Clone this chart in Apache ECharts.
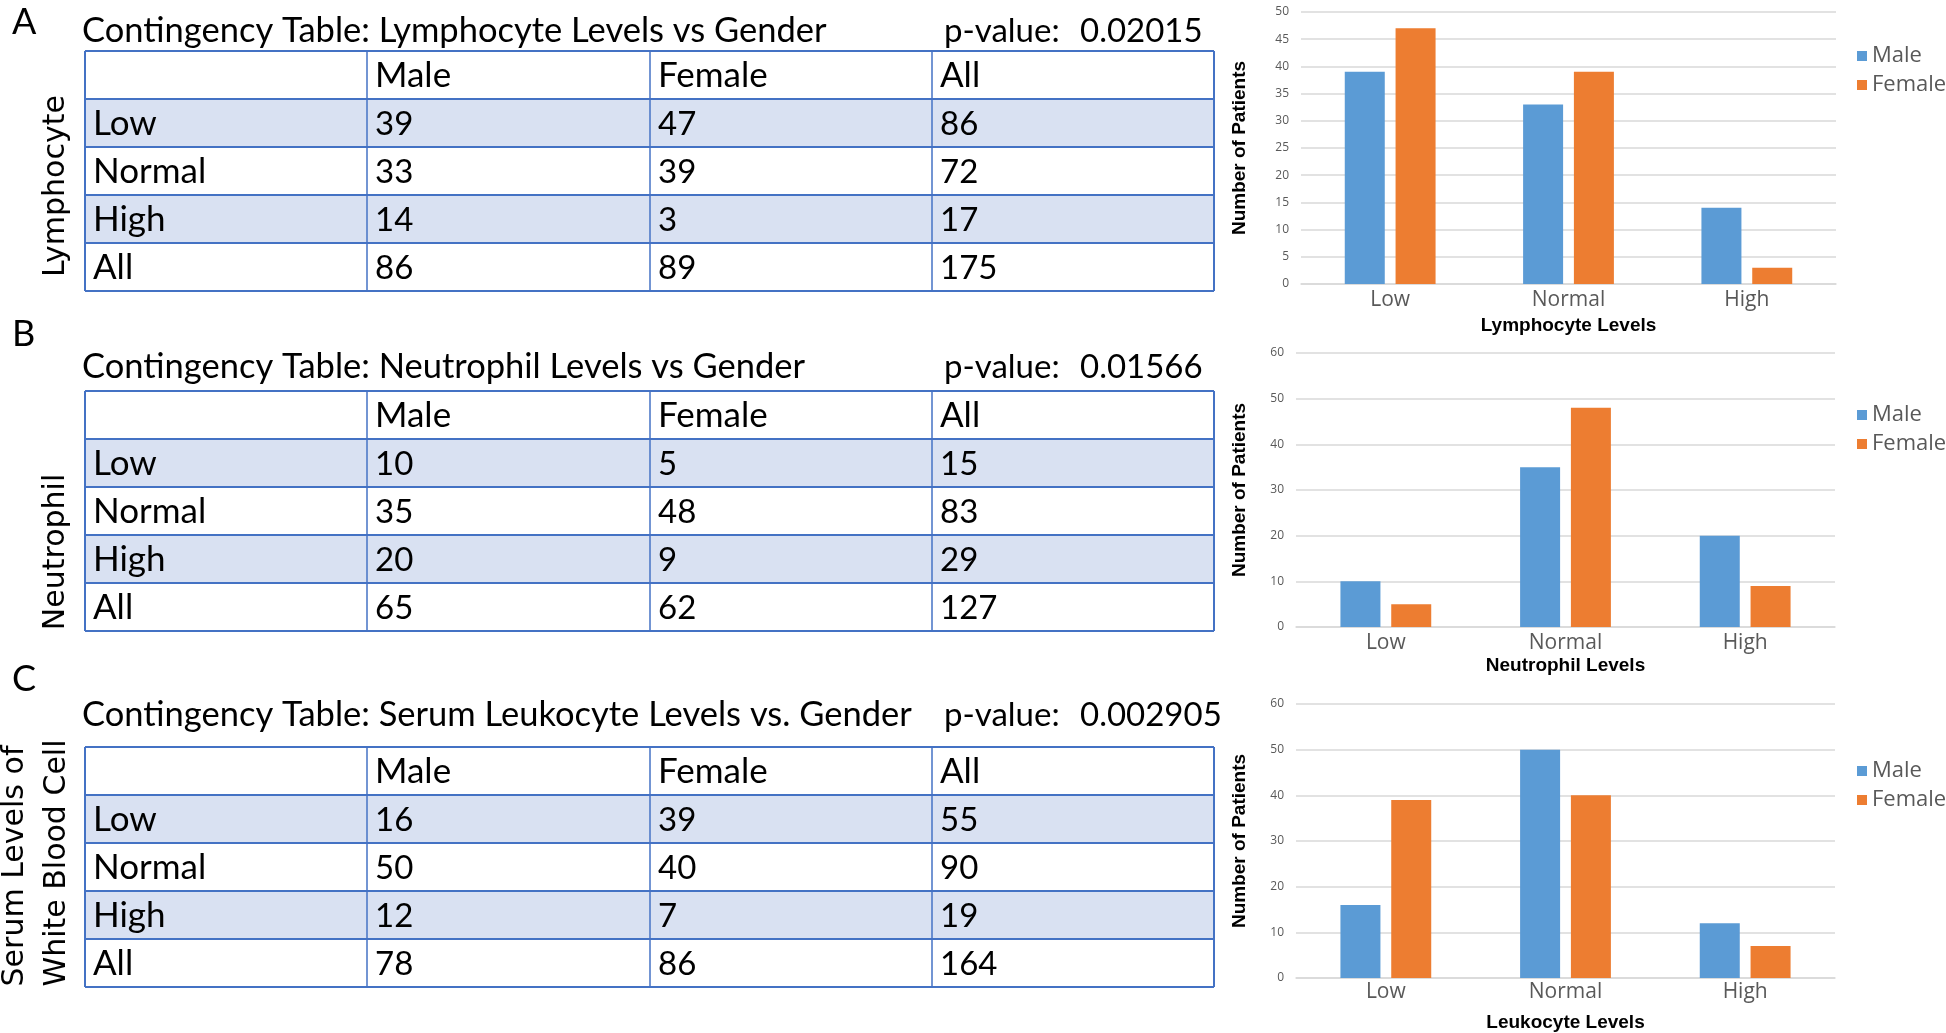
<!DOCTYPE html>
<html>
<head>
<meta charset="utf-8">
<script src="https://cdn.jsdelivr.net/npm/echarts@6/dist/echarts.min.js"></script>
<style>
html,body{margin:0;padding:0;background:#fff;}
#chart{width:1946px;height:1033px;}
</style>
</head>
<body>
<div id="chart"></div>
<script>
// ---------------- DATA ----------------
const categories = ['Low', 'Normal', 'High'];
const tableHeader = ['', 'Male', 'Female', 'All'];
const rowLabels = ['Low', 'Normal', 'High', 'All'];
const seriesNames = ['Male', 'Female'];

// A: Lymphocyte
const lymphMale = [39, 33, 14];
const lymphFemale = [47, 39, 3];
const lymphAll = [86, 72, 17];
const lymphTotals = [86, 89, 175];
const lymphP = '0.02015';

// B: Neutrophil
const neutMale = [10, 35, 20];
const neutFemale = [5, 48, 9];
const neutAll = [15, 83, 29];
const neutTotals = [65, 62, 127];
const neutP = '0.01566';

// C: Serum Leukocyte
const leukMale = [16, 50, 12];
const leukFemale = [39, 40, 7];
const leukAll = [55, 90, 19];
const leukTotals = [78, 86, 164];
const leukP = '0.002905';

// y-axis tick settings
const yMaxA = 50, yStepA = 5;
const yMaxB = 60, yStepB = 10;
const yMaxC = 60, yStepC = 10;

// ---------------- LAYOUT ----------------
const BLUE = '#5B9BD5', ORANGE = '#ED7D31';
const TABLE_FONT = 'Lato';
const TF = 34;
const cols = [85, 367, 650, 932, 1214];
const RH = 48;

const panels = [
  {letter: 'A', letterY: 22, title: 'Contingency Table: Lymphocyte Levels vs Gender', titleY: 31,
   p: lymphP, top: 51, side: [{t: 'Lymphocyte', x: 56, y: 186}],
   m: lymphMale, f: lymphFemale, a: lymphAll, tot: lymphTotals},
  {letter: 'B', letterY: 334, title: 'Contingency Table: Neutrophil Levels vs Gender', titleY: 367,
   p: neutP, top: 391, side: [{t: 'Neutrophil', x: 56, y: 552}],
   m: neutMale, f: neutFemale, a: neutAll, tot: neutTotals},
  {letter: 'C', letterY: 679, title: 'Contingency Table: Serum Leukocyte Levels vs. Gender', titleY: 715,
   p: leukP, top: 747, side: [{t: 'Serum Levels of', x: 15, y: 866}, {t: 'White Blood Cell', x: 57, y: 863}],
   m: leukMale, f: leukFemale, a: leukAll, tot: leukTotals}
];

function txt(text, x, y, opts) {
  opts = opts || {};
  return {
    type: 'text',
    x: x, y: y,
    rotation: opts.rotation || 0,
    silent: true,
    style: {
      text: String(text),
      x: 0, y: 0,
      fill: opts.fill || '#000',
      fontSize: opts.size || TF,
      fontFamily: opts.family || TABLE_FONT,
      fontWeight: opts.weight || 'normal',
      textAlign: opts.align || 'left',
      align: opts.align || 'left',
      textVerticalAlign: 'middle',
      verticalAlign: 'middle'
    },
    z: 100
  };
}

const graphics = [];
panels.forEach(function (pn) {
  graphics.push(txt(pn.letter, 12, pn.letterY, {size: 36}));
  graphics.push(txt(pn.title, 82, pn.titleY, {size: 34.5}));
  graphics.push(txt('p-value:', 944, pn.titleY, {size: 33}));
  graphics.push(txt(pn.p, 1080, pn.titleY, {size: 33}));
  pn.side.forEach(function (s) {
    graphics.push(txt(s.t, s.x, s.y, {size: 30, family: 'DejaVu Sans', align: 'center', rotation: Math.PI / 2}));
  });
  const top = pn.top;
  [1, 3].forEach(function (r) {
    graphics.push({type: 'rect', silent: true, z: 90,
      shape: {x: cols[0], y: top + r * RH, width: cols[4] - cols[0], height: RH},
      style: {fill: '#D9E1F2'}});
  });
  for (let r = 0; r <= 5; r++) {
    graphics.push({type: 'line', silent: true, z: 95,
      shape: {x1: cols[0], y1: top + r * RH, x2: cols[4], y2: top + r * RH},
      style: {stroke: '#4472C4', lineWidth: 2}});
  }
  cols.forEach(function (cx, i) {
    graphics.push({type: 'line', silent: true, z: 95,
      shape: {x1: cx, y1: top, x2: cx, y2: top + 5 * RH},
      style: {stroke: '#4472C4', lineWidth: (i === 0 || i === 4) ? 2 : 1.5}});
  });
  const rows = [tableHeader];
  for (let i = 0; i < 3; i++) rows.push([rowLabels[i], pn.m[i], pn.f[i], pn.a[i]]);
  rows.push([rowLabels[3], pn.tot[0], pn.tot[1], pn.tot[2]]);
  rows.forEach(function (row, r) {
    row.forEach(function (v, c) {
      if (v === '') return;
      const isNum = typeof v === 'number';
      graphics.push(txt(v, cols[c] + 8, top + r * RH + RH / 2 + 1, {size: isNum ? 33 : 35}));
    });
  });
});

// ---------------- CHARTS ----------------
const grids = [
  {left: 1301, right: 110, top: 12, height: 272},
  {left: 1296, right: 111, top: 353, height: 274},
  {left: 1296, right: 111, top: 704, height: 274}
];
const xNames = ['Lymphocyte Levels', 'Neutrophil Levels', 'Leukocyte Levels'];
const xNameGaps = [32, 29, 35];
const xLabelMargins = [6, 6, 4];
const yNameGaps = [52, 47, 47];
const yMaxes = [yMaxA, yMaxB, yMaxC];
const ySteps = [yStepA, yStepB, yStepC];
const legendTops = [45, 404, 760];
const maleSets = [lymphMale, neutMale, leukMale];
const femaleSets = [lymphFemale, neutFemale, leukFemale];

const xAxes = [], yAxes = [], series = [], legends = [];
for (let i = 0; i < 3; i++) {
  xAxes.push({
    type: 'category', gridIndex: i, data: categories,
    axisTick: {show: false},
    axisLine: {lineStyle: {color: '#D9D9D9', width: 1.5}},
    axisLabel: {color: '#595959', fontSize: 21, fontFamily: 'Open Sans', margin: xLabelMargins[i]},
    name: xNames[i], nameLocation: 'middle', nameGap: xNameGaps[i],
    nameTextStyle: {color: '#000', fontSize: 19, fontWeight: 'bold', fontFamily: 'Liberation Sans'}
  });
  yAxes.push({
    type: 'value', gridIndex: i, min: 0, max: yMaxes[i], interval: ySteps[i],
    axisLine: {show: false}, axisTick: {show: false},
    axisLabel: {color: '#595959', fontSize: 12, fontFamily: 'Open Sans', margin: 12},
    splitLine: {lineStyle: {color: '#D9D9D9', width: 1.5}},
    name: 'Number of Patients', nameLocation: 'middle', nameGap: yNameGaps[i],
    nameTextStyle: {color: '#000', fontSize: 19, fontWeight: 'bold', fontFamily: 'Liberation Sans'}
  });
  series.push({
    type: 'bar', name: seriesNames[0], xAxisIndex: i, yAxisIndex: i,
    data: maleSets[i], barWidth: 40, barGap: '27%', itemStyle: {color: BLUE}
  });
  series.push({
    type: 'bar', name: seriesNames[1], xAxisIndex: i, yAxisIndex: i,
    data: femaleSets[i], barWidth: 40, barGap: '27%', itemStyle: {color: ORANGE}
  });
  legends.push({
    data: seriesNames, orient: 'vertical', left: 1857, top: legendTops[i],
    icon: 'rect', itemWidth: 10, itemHeight: 10, itemGap: 7,
    selectedMode: false, padding: 0,
    textStyle: {color: '#595959', fontSize: 22, fontFamily: 'Open Sans'}
  });
}

const chart = echarts.init(document.getElementById('chart'), null, {renderer: 'canvas'});
chart.setOption({
  animation: false,
  backgroundColor: '#fff',
  grid: grids,
  xAxis: xAxes,
  yAxis: yAxes,
  legend: legends,
  series: series,
  graphic: graphics
});
</script>
</body>
</html>
